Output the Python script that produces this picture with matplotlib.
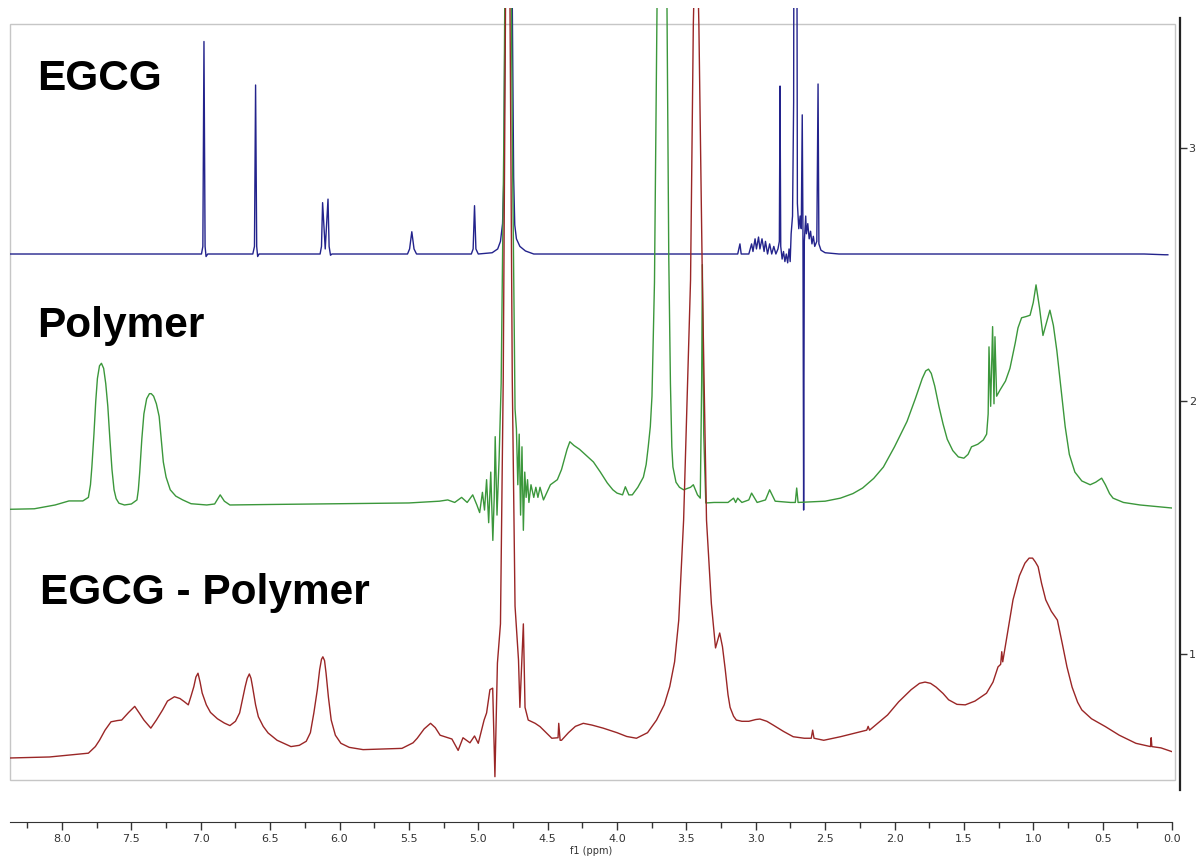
import matplotlib
matplotlib.use("Agg")
import matplotlib.pyplot as plt
from matplotlib.patches import Rectangle
import numpy as np

#########################
# DATA (ppm, intensity above each trace's own baseline)
#########################
egcg_ppm = [8.375, 7.2, 6.995, 6.985, 6.977, 6.969, 6.962, 6.95,
            6.625, 6.613, 6.605, 6.597, 6.59, 6.58,
            6.14, 6.13, 6.122, 6.103, 6.083, 6.075, 6.065, 6.055,
            5.51, 5.495, 5.479, 5.463, 5.445,
            5.05, 5.037, 5.027, 5.017, 5.0,
            4.90, 4.86, 4.84, 4.825, 4.815, 4.805, 4.79, 4.775, 4.755, 4.745,
            4.737, 4.725, 4.70, 4.66, 4.62, 4.60,
            3.13, 3.114, 3.105, 3.05, 3.03, 3.02, 3.005, 2.995, 2.98, 2.97,
            2.955, 2.94, 2.93, 2.915, 2.90, 2.885, 2.87, 2.855, 2.84, 2.83,
            2.825, 2.82, 2.81, 2.80, 2.79, 2.78, 2.77, 2.76, 2.752, 2.745,
            2.735, 2.727, 2.72, 2.71, 2.70, 2.69, 2.68, 2.672, 2.665, 2.66,
            2.655, 2.65, 2.64, 2.635, 2.625, 2.615, 2.605, 2.595, 2.585,
            2.575, 2.56, 2.551, 2.545, 2.53, 2.50, 2.4, 0.5, 0.2, 0.05, 0.03]
egcg_int = [0.0, 0.0, 0.0, 0.03, 0.84, 0.03, -0.01, 0.0,
            0.0, 0.03, 0.668, 0.03, -0.01, 0.0,
            0.0, 0.03, 0.203, 0.02, 0.217, 0.03, -0.005, 0.0,
            0.0, 0.02, 0.088, 0.02, 0.0,
            0.0, 0.02, 0.191, 0.02, 0.0,
            0.005, 0.02, 0.05, 0.12, 0.31, 1.2, 3.2, 3.2, 1.0, 0.3,
            0.115, 0.06, 0.03, 0.012, 0.004, 0.0,
            0.0, 0.04, 0.0, 0.0, 0.04, 0.01, 0.06, 0.02, 0.067, 0.02,
            0.06, 0.01, 0.05, 0.0, 0.04, 0.0, 0.03, 0.0, 0.02, 0.05,
            0.664, 0.03, -0.02, 0.01, -0.03, 0.0, -0.035, 0.02, -0.03, 0.08,
            0.15, 0.6, 3.2, 3.2, 0.2, 0.1, 0.15, 0.1, 0.55, 0.1,
            -1.012, 0.05, 0.15, 0.08, 0.12, 0.06, 0.09, 0.04, 0.07,
            0.03, 0.05, 0.672, 0.04, 0.015, 0.005, 0.0, 0.0, 0.0, -0.003, -0.003]

polymer_ppm = [8.375, 8.2, 8.05, 7.95, 7.85, 7.81, 7.795, 7.785, 7.77, 7.757,
               7.745, 7.73, 7.716, 7.70, 7.685, 7.67, 7.655, 7.64, 7.625, 7.61,
               7.59, 7.55, 7.50, 7.46, 7.45, 7.44, 7.425, 7.41, 7.39, 7.37,
               7.357, 7.34, 7.32, 7.30, 7.285, 7.27, 7.25, 7.22, 7.18, 7.13,
               7.07, 6.957, 6.90, 6.86, 6.83, 6.79, 6.5, 6.0, 5.5, 5.28,
               5.22, 5.17, 5.12, 5.08, 5.04, 5.01, 4.99, 4.97, 4.955, 4.94,
               4.925, 4.91, 4.895, 4.885, 4.878, 4.865, 4.85, 4.835, 4.815, 4.795,
               4.775, 4.755, 4.735, 4.725, 4.715, 4.705, 4.695, 4.685, 4.675, 4.665,
               4.655, 4.645, 4.635, 4.62, 4.60, 4.585, 4.57, 4.555, 4.53, 4.48,
               4.43, 4.40, 4.36, 4.34, 4.31, 4.27, 4.24, 4.20, 4.17, 4.12,
               4.07, 4.03, 4.00, 3.96, 3.94, 3.915, 3.89, 3.85, 3.81, 3.79,
               3.775, 3.76, 3.748, 3.73, 3.712, 3.676, 3.64, 3.627, 3.615, 3.605,
               3.597, 3.575, 3.55, 3.52, 3.47, 3.45, 3.42, 3.40, 3.39, 3.385,
               3.375, 3.36, 3.3, 3.2, 3.16, 3.145, 3.13, 3.10, 3.05, 3.03,
               2.99, 2.93, 2.90, 2.86, 2.75, 2.715, 2.705, 2.695, 2.5, 2.39,
               2.30, 2.23, 2.15, 2.08, 2.0, 1.91, 1.85, 1.80, 1.775, 1.755,
               1.735, 1.71, 1.68, 1.65, 1.62, 1.58, 1.54, 1.50, 1.47, 1.445,
               1.40, 1.36, 1.336, 1.325, 1.319, 1.307, 1.293, 1.283, 1.276, 1.264,
               1.24, 1.20, 1.168, 1.13, 1.11, 1.084, 1.05, 1.023, 1.0, 0.98,
               0.955, 0.93, 0.905, 0.88, 0.855, 0.83, 0.80, 0.77, 0.74, 0.70,
               0.65, 0.59, 0.55, 0.507, 0.48, 0.45, 0.425, 0.35, 0.23, 0.0]
polymer_int = [0.003, 0.005, 0.02, 0.036, 0.036, 0.05, 0.1, 0.17, 0.3, 0.43,
               0.52, 0.57, 0.58, 0.56, 0.5, 0.41, 0.28, 0.16, 0.08, 0.045,
               0.027, 0.02, 0.024, 0.04, 0.08, 0.15, 0.28, 0.38, 0.44, 0.46,
               0.46, 0.45, 0.42, 0.37, 0.28, 0.19, 0.13, 0.08, 0.055, 0.04,
               0.025, 0.02, 0.024, 0.06, 0.035, 0.02, 0.022, 0.025, 0.028, 0.035,
               0.04, 0.03, 0.05, 0.03, 0.06, 0.02, -0.01, 0.07, 0.0, 0.12,
               -0.05, 0.15, -0.12, 0.05, 0.29, -0.02, 0.2, 0.5, 1.5, 3.2,
               3.2, 1.5, 0.4, 0.32, 0.1, 0.3, -0.02, 0.25, -0.08, 0.15,
               0.05, 0.12, 0.03, 0.1, 0.05, 0.09, 0.05, 0.09, 0.04, 0.1,
               0.12, 0.16, 0.24, 0.27, 0.255, 0.24, 0.225, 0.205, 0.19, 0.15,
               0.107, 0.08, 0.067, 0.06, 0.092, 0.06, 0.06, 0.09, 0.13, 0.18,
               0.25, 0.33, 0.45, 0.9, 2.0, 2.8, 2.0, 1.0, 0.5, 0.25,
               0.17, 0.11, 0.09, 0.08, 0.09, 0.1, 0.06, 0.047, 0.5, 0.97,
               0.3, 0.028, 0.03, 0.03, 0.047, 0.03, 0.047, 0.03, 0.04, 0.067,
               0.03, 0.04, 0.08, 0.035, 0.03, 0.03, 0.087, 0.03, 0.035, 0.047,
               0.065, 0.087, 0.125, 0.17, 0.25, 0.35, 0.44, 0.52, 0.55, 0.557,
               0.54, 0.49, 0.41, 0.34, 0.28, 0.235, 0.21, 0.205, 0.22, 0.25,
               0.26, 0.277, 0.30, 0.38, 0.645, 0.41, 0.725, 0.42, 0.685, 0.45,
               0.474, 0.51, 0.56, 0.66, 0.72, 0.76, 0.765, 0.77, 0.82, 0.89,
               0.8, 0.69, 0.74, 0.79, 0.73, 0.63, 0.48, 0.33, 0.22, 0.15,
               0.115, 0.10, 0.11, 0.126, 0.1, 0.065, 0.047, 0.03, 0.02, 0.008]

mix_ppm = [8.375, 8.09, 7.81, 7.76, 7.73, 7.69, 7.647, 7.60, 7.57, 7.52,
           7.476, 7.44, 7.41, 7.36, 7.32, 7.275, 7.24, 7.19, 7.15, 7.12,
           7.09, 7.07, 7.05, 7.035, 7.02, 7.005, 6.99, 6.96, 6.93, 6.88,
           6.83, 6.79, 6.75, 6.72, 6.70, 6.68, 6.665, 6.65, 6.638, 6.627,
           6.605, 6.585, 6.55, 6.515, 6.45, 6.35, 6.29, 6.24, 6.21, 6.185,
           6.16, 6.143, 6.13, 6.12, 6.108, 6.097, 6.08, 6.06, 6.03, 5.99,
           5.93, 5.83, 5.55, 5.47, 5.44, 5.39, 5.344, 5.31, 5.275, 5.19,
           5.145, 5.11, 5.06, 5.027, 5.0, 4.958, 4.94, 4.916, 4.896, 4.88,
           4.862, 4.84, 4.82, 4.80, 4.775, 4.755, 4.735, 4.71, 4.70, 4.675,
           4.663, 4.64, 4.59, 4.555, 4.47, 4.425, 4.42, 4.41, 4.40, 4.35,
           4.30, 4.243, 4.18, 4.10, 4.0, 3.93, 3.86, 3.78, 3.715, 3.66,
           3.62, 3.585, 3.555, 3.52, 3.47, 3.45, 3.43, 3.41, 3.385, 3.355,
           3.32, 3.29, 3.26, 3.24, 3.22, 3.2, 3.185, 3.16, 3.14, 3.10,
           3.05, 3.0, 2.97, 2.92, 2.874, 2.80, 2.73, 2.65, 2.6, 2.59,
           2.58, 2.51, 2.39, 2.2, 2.19, 2.18, 2.05, 1.97, 1.88, 1.82,
           1.78, 1.74, 1.70, 1.65, 1.61, 1.55, 1.49, 1.42, 1.337, 1.29,
           1.254, 1.235, 1.227, 1.22, 1.19, 1.146, 1.10, 1.06, 1.03, 1.005,
           0.985, 0.965, 0.94, 0.91, 0.87, 0.826, 0.79, 0.757, 0.72, 0.68,
           0.65, 0.58, 0.48, 0.38, 0.26, 0.155, 0.15, 0.145, 0.08, 0.0]
mix_int = [0.0, 0.004, 0.019, 0.045, 0.07, 0.11, 0.143, 0.148, 0.15, 0.18,
           0.204, 0.175, 0.15, 0.118, 0.15, 0.19, 0.225, 0.242, 0.235, 0.223,
           0.21, 0.245, 0.282, 0.32, 0.335, 0.3, 0.257, 0.21, 0.18, 0.155,
           0.138, 0.128, 0.145, 0.178, 0.23, 0.282, 0.315, 0.332, 0.315, 0.282,
           0.21, 0.163, 0.125, 0.099, 0.07, 0.045, 0.05, 0.066, 0.1, 0.178,
           0.27, 0.35, 0.39, 0.40, 0.385, 0.335, 0.24, 0.15, 0.09, 0.058,
           0.042, 0.033, 0.038, 0.06, 0.078, 0.115, 0.137, 0.12, 0.09, 0.075,
           0.03, 0.08, 0.06, 0.087, 0.058, 0.15, 0.178, 0.27, 0.276, -0.074,
           0.375, 0.53, 1.5, 3.3, 3.3, 1.5, 0.6, 0.387, 0.2, 0.53,
           0.2, 0.15, 0.137, 0.124, 0.078, 0.08, 0.137, 0.07, 0.07, 0.1,
           0.125, 0.137, 0.13, 0.118, 0.1, 0.085, 0.078, 0.1, 0.15, 0.21,
           0.282, 0.38, 0.545, 0.94, 1.89, 2.9, 3.4, 2.9, 1.89, 0.94,
           0.61, 0.435, 0.494, 0.44, 0.35, 0.25, 0.2, 0.165, 0.15, 0.145,
           0.145, 0.152, 0.154, 0.145, 0.13, 0.105, 0.084, 0.078, 0.078, 0.11,
           0.078, 0.07, 0.084, 0.11, 0.125, 0.11, 0.17, 0.222, 0.27, 0.295,
           0.30, 0.295, 0.28, 0.255, 0.23, 0.212, 0.21, 0.225, 0.256, 0.3,
           0.36, 0.37, 0.42, 0.38, 0.48, 0.625, 0.72, 0.77, 0.79, 0.79,
           0.775, 0.756, 0.69, 0.625, 0.58, 0.545, 0.45, 0.36, 0.28, 0.22,
           0.19, 0.155, 0.124, 0.09, 0.058, 0.045, 0.08, 0.045, 0.04, 0.025]

trace_names = ["EGCG", "Polymer", "EGCG - Polymer"]
trace_offsets = [2.581, 1.569, 0.589]
trace_colors = ["#23238c", "#3b973b", "#9a2626"]

W, H = 1197, 866


def fig_rect(x0, y0, x1, y1):
    return [x0 / W, 1 - y1 / H, (x1 - x0) / W, (y1 - y0) / H]


def yval(py):
    # pixel row -> intensity axis value (tick 1 at row 654, 253 px per unit)
    return 1 + (654 - py) / 253.0


fig = plt.figure(figsize=(W / 100, H / 100), dpi=100)
ax = fig.add_axes(fig_rect(10, 8, 1172, 795))
ax.set_xlim(8.375, 0)
ax.set_ylim(yval(795), yval(8))

# light frame around the spectra
ax.add_patch(Rectangle((8.375, yval(780)), -8.395, yval(24) - yval(780),
                       fill=False, edgecolor="#c6c6c6", linewidth=1.0, clip_on=False, zorder=0))

series = [(polymer_ppm, polymer_int, 1), (mix_ppm, mix_int, 2), (egcg_ppm, egcg_int, 0)]
for ppm, inten, i in series:
    ax.plot(ppm, np.array(inten) + trace_offsets[i], color=trace_colors[i], linewidth=1.0, zorder=2 + i)

label_rows = [79, 326, 593]
label_left = [8.18, 8.18, 8.16]
for name, row, xl in zip(trace_names, label_rows, label_left):
    ax.text(xl, yval(row), name, fontsize=30.5, fontweight="bold", family="Liberation Sans",
            ha="left", va="center", color="black", zorder=10)

# right intensity axis
for s in ["top", "bottom", "left"]:
    ax.spines[s].set_visible(False)
ax.spines["right"].set_position(("outward", 6))
ax.spines["right"].set_bounds(yval(790), yval(18))
ax.spines["right"].set_linewidth(1.6)
ax.spines["right"].set_color("#222222")
ax.yaxis.tick_right()
ax.set_yticks([1, 2, 3])
ax.tick_params(axis="y", direction="out", length=5, width=1, labelsize=8, colors="#333333", pad=1)
ax.set_xticks([])

# ppm axis below
axb = fig.add_axes(fig_rect(10, 821, 1172, 822))
axb.set_xlim(8.375, 0)
axb.set_yticks([])
for s in ["top", "left", "right"]:
    axb.spines[s].set_visible(False)
axb.spines["bottom"].set_color("#333333")
axb.set_xticks(np.arange(0, 8.01, 0.5))
axb.set_xticklabels(["%.1f" % t for t in np.arange(0, 8.01, 0.5)])
axb.set_xticks(np.arange(0.25, 8.3, 0.5), minor=True)
axb.tick_params(axis="x", which="major", direction="out", length=6, width=1,
                labelsize=8, colors="#333333", pad=3)
axb.tick_params(axis="x", which="minor", direction="out", length=4, width=1, colors="#333333")
axb.set_xlabel("f1 (ppm)", fontsize=7, labelpad=1, color="#333333")

fig.savefig("out.png", dpi=100)
